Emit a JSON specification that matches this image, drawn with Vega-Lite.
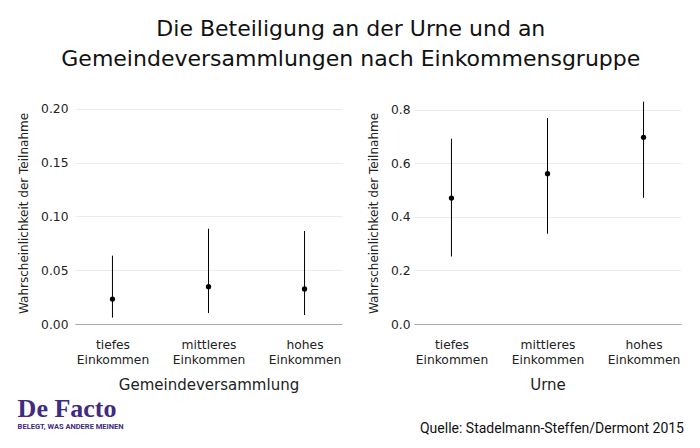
{
  "$schema": "https://vega.github.io/schema/vega-lite/v6.json",
  "padding": {"top": 18, "left": 17, "right": 12, "bottom": 5},
  "background": "white",
  "title": {
    "text": ["Die Beteiligung an der Urne und an", "Gemeindeversammlungen nach Einkommensgruppe"],
    "font": "DejaVu Sans",
    "fontSize": 22,
    "fontWeight": "normal",
    "color": "#111111",
    "lineHeight": 30,
    "anchor": "middle",
    "offset": 30
  },
  "config": {
    "view": {"stroke": null},
    "font": "DejaVu Sans",
    "axis": {
      "labelFont": "DejaVu Sans",
      "titleFont": "DejaVu Sans",
      "labelColor": "#222222",
      "titleColor": "#222222",
      "titleFontWeight": "normal",
      "ticks": false
    },
    "concat": {"spacing": 25}
  },
  "datasets": {
    "werte": [
      {"panel": "Gemeindeversammlung", "einkommen": "tiefes Einkommen", "estimate": 0.0232, "lower": 0.0059, "upper": 0.0635},
      {"panel": "Gemeindeversammlung", "einkommen": "mittleres Einkommen", "estimate": 0.0347, "lower": 0.0102, "upper": 0.0885},
      {"panel": "Gemeindeversammlung", "einkommen": "hohes Einkommen", "estimate": 0.0325, "lower": 0.0084, "upper": 0.0864},
      {"panel": "Urne", "einkommen": "tiefes Einkommen", "estimate": 0.470, "lower": 0.252, "upper": 0.692},
      {"panel": "Urne", "einkommen": "mittleres Einkommen", "estimate": 0.561, "lower": 0.337, "upper": 0.769},
      {"panel": "Urne", "einkommen": "hohes Einkommen", "estimate": 0.697, "lower": 0.471, "upper": 0.830}
    ]
  },
  "hconcat": [
    {
      "width": 267,
      "height": 222,
      "data": {"name": "werte"},
      "transform": [{"filter": "datum.panel === 'Gemeindeversammlung'"}],
      "title": {
        "text": "De Facto",
        "subtitle": "BELEGT, WAS ANDERE MEINEN",
        "orient": "bottom",
        "anchor": "start",
        "frame": "bounds",
        "font": "Liberation Serif",
        "fontSize": 26,
        "fontWeight": "bold",
        "color": "#3f2b7f",
        "subtitleFont": "Roboto",
        "subtitleFontSize": 7.5,
        "subtitleFontWeight": "bold",
        "subtitleColor": "#3f2b7f",
        "subtitlePadding": 1,
        "offset": 4
      },
      "encoding": {
        "x": {
          "field": "einkommen",
          "type": "nominal",
          "sort": ["tiefes Einkommen", "mittleres Einkommen", "hohes Einkommen"],
          "scale": {"type": "point", "padding": 0.39},
          "axis": {
            "title": "Gemeindeversammlung",
            "labelAngle": 0,
            "labelFontSize": 12.3,
            "labelLineHeight": 15,
            "labelPadding": 14,
            "labelExpr": "split(datum.label, ' ')",
            "titleFontSize": 15,
            "titlePadding": 12,
            "domainColor": "#aaaaaa",
            "grid": false
          }
        }
      },
      "layer": [
        {
          "mark": {"type": "rule", "color": "black", "strokeWidth": 1},
          "encoding": {
            "y": {
              "field": "lower",
              "type": "quantitative",
              "scale": {"domain": [0, 0.2062], "nice": false, "zero": true},
              "axis": {
                "title": "Wahrscheinlichkeit der Teilnahme",
                "values": [0, 0.05, 0.1, 0.15, 0.2],
                "format": ".2f",
                "grid": true,
                "gridColor": "#ebebeb",
                "domain": false,
                "labelFontSize": 12.3,
                "labelPadding": 7,
                "titleFontSize": 12,
                "titlePadding": 10
              }
            },
            "y2": {"field": "upper"}
          }
        },
        {
          "mark": {"type": "point", "filled": true, "color": "black", "size": 28, "opacity": 1},
          "encoding": {"y": {"field": "estimate", "type": "quantitative"}}
        }
      ]
    },
    {
      "width": 267,
      "height": 222,
      "data": {"name": "werte"},
      "transform": [{"filter": "datum.panel === 'Urne'"}],
      "title": {
        "text": "Quelle: Stadelmann-Steffen/Dermont 2015",
        "orient": "bottom",
        "anchor": "end",
        "frame": "bounds",
        "font": "Roboto",
        "fontSize": 14,
        "fontWeight": "normal",
        "color": "#111111",
        "offset": 30,
        "dx": 3
      },
      "encoding": {
        "x": {
          "field": "einkommen",
          "type": "nominal",
          "sort": ["tiefes Einkommen", "mittleres Einkommen", "hohes Einkommen"],
          "scale": {"type": "point", "padding": 0.39},
          "axis": {
            "title": "Urne",
            "labelAngle": 0,
            "labelFontSize": 12.3,
            "labelLineHeight": 15,
            "labelPadding": 14,
            "labelExpr": "split(datum.label, ' ')",
            "titleFontSize": 15,
            "titlePadding": 12,
            "domainColor": "#aaaaaa",
            "grid": false
          }
        }
      },
      "layer": [
        {
          "mark": {"type": "rule", "color": "black", "strokeWidth": 1},
          "encoding": {
            "y": {
              "field": "lower",
              "type": "quantitative",
              "scale": {"domain": [0, 0.8287], "nice": false, "zero": true},
              "axis": {
                "title": "Wahrscheinlichkeit der Teilnahme",
                "values": [0, 0.2, 0.4, 0.6, 0.8],
                "format": ".1f",
                "grid": true,
                "gridColor": "#ebebeb",
                "domain": false,
                "labelFontSize": 12.3,
                "labelPadding": 4,
                "titleFontSize": 12,
                "titlePadding": 10
              }
            },
            "y2": {"field": "upper"}
          }
        },
        {
          "mark": {"type": "point", "filled": true, "color": "black", "size": 28, "opacity": 1},
          "encoding": {"y": {"field": "estimate", "type": "quantitative"}}
        }
      ]
    }
  ]
}
